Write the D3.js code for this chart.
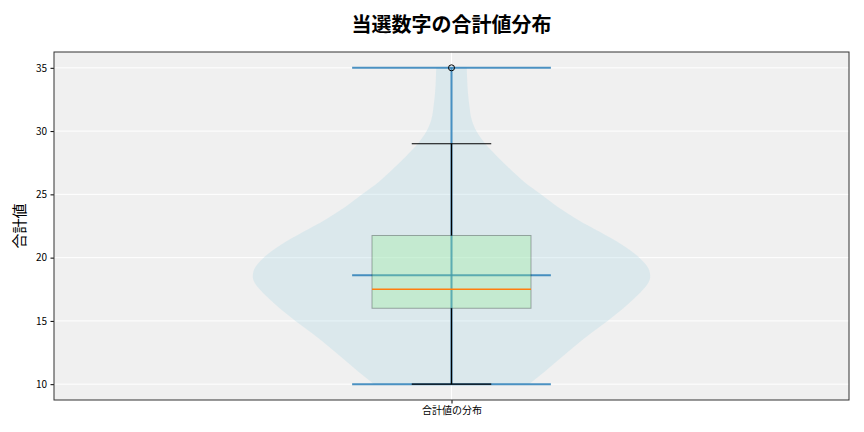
<!DOCTYPE html>
<html>
<head>
<meta charset="utf-8">
<script src="https://cdn.jsdelivr.net/npm/d3@7"></script>
<style>
  body { margin: 0; background: #fff; }
  text { font-family: "Noto Sans CJK JP", "Noto Sans", sans-serif; }
</style>
</head>
<body>
<div id="chart"></div>
<script>
// chart data
const category = ["合計値の分布"];
const yTicks = [10, 15, 20, 25, 30, 35];
// violin outline: value levels and relative density
const densityLevels = [10, 11, 12, 13, 14, 15, 16, 17, 17.5, 18, 18.5, 19, 20, 21, 22, 23, 24, 25, 26, 27, 28, 29, 30, 31, 32, 33, 34, 35];
const densityValues = [0.39, 0.47, 0.545, 0.62, 0.70, 0.785, 0.865, 0.935, 0.965, 0.99, 1.0, 0.995, 0.945, 0.86, 0.75, 0.635, 0.535, 0.45, 0.365, 0.295, 0.23, 0.17, 0.125, 0.10, 0.09, 0.083, 0.079, 0.077];
// box stats
const q1 = 16, median = 17.5, q3 = 21.75;
const whiskerLow = 10, whiskerHigh = 29;
const meanValue = 18.6, minValue = 10, maxValue = 35;
const outliers = [35];

const W = 864, H = 432;
const margin = {top: 52, right: 15, bottom: 32, left: 54},
    width = W - margin.left - margin.right,
    height = H - margin.top - margin.bottom;

const svg = d3.select("#chart").append("svg")
    .attr("width", W).attr("height", H);

svg.append("text")
    .attr("x", margin.left + width / 2).attr("y", 32)
    .attr("text-anchor", "middle")
    .style("font-size", "20px").style("font-weight", "bold")
    .text("当選数字の合計値分布");

const g = svg.append("g").attr("transform", `translate(${margin.left},${margin.top})`);

const x = d3.scaleLinear().domain([0.5, 1.5]).range([0, width]);
const y = d3.scaleLinear().domain([8.75, 36.25]).range([height, 0]);
const pos = 1;

g.append("rect").attr("width", width).attr("height", height).attr("fill", "#f0f0f0");

// grid
g.selectAll(".hgrid").data(yTicks).enter().append("line")
    .attr("x1", 0).attr("x2", width)
    .attr("y1", d => y(d)).attr("y2", d => y(d))
    .attr("stroke", "#fff").attr("stroke-width", 1);
g.append("line").attr("x1", x(pos)).attr("x2", x(pos)).attr("y1", 0).attr("y2", height)
    .attr("stroke", "#fff").attr("stroke-width", 1);

// violin body
const vdata = densityLevels.map((v, i) => ({v, d: densityValues[i]}));
const area = d3.area()
    .y(d => y(d.v))
    .x0(d => x(pos - d.d * 0.25))
    .x1(d => x(pos + d.d * 0.25))
    .curve(d3.curveMonotoneY);
g.append("path").datum(vdata).attr("d", area)
    .attr("fill", "#add8e6").attr("fill-opacity", 0.3);

// violin lines (extrema, mean, bar)
const blue = "#1f77b4";
[minValue, maxValue, meanValue].forEach(v => {
    g.append("line")
        .attr("x1", x(pos - 0.125)).attr("x2", x(pos + 0.125))
        .attr("y1", y(v)).attr("y2", y(v))
        .attr("stroke", blue).attr("stroke-opacity", 0.8).attr("stroke-width", 2);
});
g.append("line")
    .attr("x1", x(pos)).attr("x2", x(pos))
    .attr("y1", y(minValue)).attr("y2", y(maxValue))
    .attr("stroke", blue).attr("stroke-opacity", 0.8).attr("stroke-width", 2);

// box
g.append("rect")
    .attr("x", x(pos - 0.1)).attr("width", x(pos + 0.1) - x(pos - 0.1))
    .attr("y", y(q3)).attr("height", y(q1) - y(q3))
    .attr("fill", "#90ee90").attr("fill-opacity", 0.3)
    .attr("stroke", "#000").attr("stroke-opacity", 0.3).attr("stroke-width", 1);
g.append("line")
    .attr("x1", x(pos - 0.1)).attr("x2", x(pos + 0.1))
    .attr("y1", y(median)).attr("y2", y(median))
    .attr("stroke", "#ff7f0e").attr("stroke-width", 1.3);

// whiskers and caps
[[q1, whiskerLow], [q3, whiskerHigh]].forEach(([a, b]) => {
    g.append("line").attr("x1", x(pos)).attr("x2", x(pos))
        .attr("y1", y(a)).attr("y2", y(b))
        .attr("stroke", "#000").attr("stroke-width", 1.3);
    g.append("line").attr("x1", x(pos - 0.05)).attr("x2", x(pos + 0.05))
        .attr("y1", y(b)).attr("y2", y(b))
        .attr("stroke", "#000").attr("stroke-width", 1.2);
});

// outliers
g.selectAll(".flier").data(outliers).enter().append("circle")
    .attr("cx", x(pos)).attr("cy", d => y(d)).attr("r", 3)
    .attr("fill", "none").attr("stroke", "#000").attr("stroke-width", 1);

// axes
const yAxis = g.append("g").call(d3.axisLeft(y).tickValues(yTicks).tickSize(3.5).tickPadding(3.5));
const xAxis = g.append("g").attr("transform", `translate(0,${height})`)
    .call(d3.axisBottom(x).tickValues([pos]).tickFormat((d, i) => category[i]).tickSize(3.5).tickPadding(3.5));
[yAxis, xAxis].forEach(ax => {
    ax.select(".domain").remove();
    ax.selectAll("text").style("font-size", "10px").attr("fill", "#000")
        .style("font-family", '"Noto Sans CJK JP", sans-serif');
    ax.selectAll("line").attr("stroke", "#000");
});

g.append("rect").attr("width", width).attr("height", height)
    .attr("fill", "none").attr("stroke", "#333").attr("stroke-width", 1);

svg.append("text")
    .attr("transform", `translate(25,${margin.top + height / 2}) rotate(-90)`)
    .attr("text-anchor", "middle")
    .style("font-size", "15px")
    .text("合計値");
</script>
</body>
</html>
